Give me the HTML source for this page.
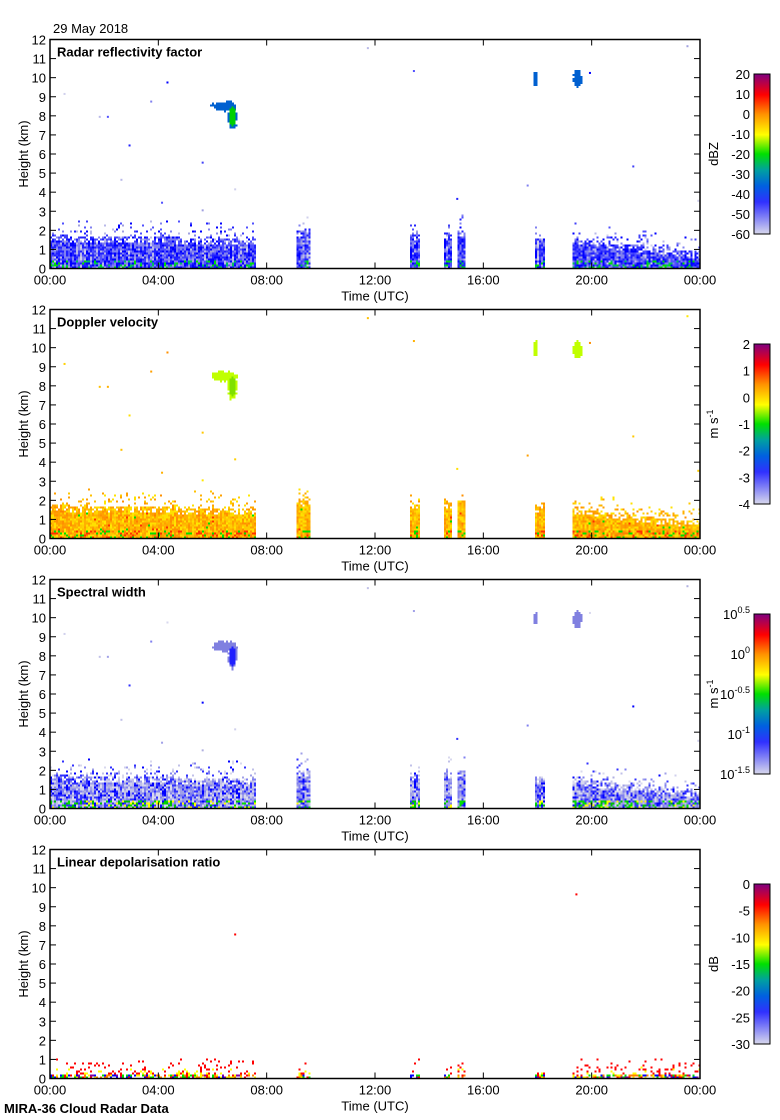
<!DOCTYPE html>
<html><head><meta charset="utf-8">
<style>
body{margin:0;background:#fff;}
svg{display:block;font-family:"Liberation Sans",sans-serif;}
</style></head>
<body>
<svg id="chart" width="780" height="1120" viewBox="0 0 780 1120">
<defs>
<linearGradient id="cmap" x1="0" y1="1" x2="0" y2="0">
<stop offset="0" stop-color="#d8d8ec"/><stop offset="0.2" stop-color="#3030ff"/>
<stop offset="0.3" stop-color="#0060e0"/><stop offset="0.4" stop-color="#00a0a0"/>
<stop offset="0.5" stop-color="#00e000"/><stop offset="0.62" stop-color="#ffff00"/>
<stop offset="0.75" stop-color="#ff9000"/><stop offset="0.87" stop-color="#ff0000"/>
<stop offset="1" stop-color="#800080"/></linearGradient>
</defs>
</svg>
<script>
// ---- data ----
const segStart=[0,9.1,13.3,14.55,15.05,17.9,19.3];
const segEnd=[7.55,9.6,13.62,14.82,15.28,18.25,24];
const segTopStart=[1.8,2.0,1.8,1.9,2.0,1.7,1.6];
const segTopEnd=[1.6,2.0,1.8,1.9,2.0,1.7,0.9];
const blobT0=[5.9,6.55,17.85,19.3];
const blobT1=[6.9,6.85,17.95,19.6];
const blobH0=[8.3,7.3,9.6,9.5];
const blobH1=[8.8,8.7,10.4,10.4];
const dotT=[0.5,1.8,2.1,2.9,3.7,4.3,5.6,5.6,6.8,11.7,13.4,15.0,17.6,19.9,21.5,23.5,23.9,2.6,4.1];
const dotH=[9.2,8.0,8.0,6.5,8.8,9.8,5.6,3.1,4.2,11.6,10.4,3.7,4.4,10.3,5.4,11.7,3.6,4.7,3.5];
const ldrDotT=[6.8,19.4];
const ldrDotH=[7.6,9.7];
const yTicks=[0,1,2,3,4,5,6,7,8,9,10,11,12];
const xTicks=["00:00","04:00","08:00","12:00","16:00","20:00","00:00"];
const titles=["Radar reflectivity factor","Doppler velocity","Spectral width","Linear depolarisation ratio"];
const cbTicks=[["20","10","0","-10","-20","-30","-40","-50","-60"],["2","1","0","-1","-2","-3","-4"],["0.5","0","-0.5","-1","-1.5"],["0","-5","-10","-15","-20","-25","-30"]];
const cbUnits=["dBZ","m s-1","m s-1","dB"];
// ---- layout ----
const L=50,R=700,PH=229,tops=[39.5,309.5,579.5,849.5];
const NS="http://www.w3.org/2000/svg",svg=document.getElementById('chart');
function el(t,a,p){const e=document.createElementNS(NS,t);for(const k in a)e.setAttribute(k,a[k]);(p||svg).appendChild(e);return e;}
const xS=h=>L+h/24*(R-L);
function yS(p,km){return tops[p]+PH-km/12*PH;}
function hash(a,b,c){let h=(a*374761393+b*668265263+c*2147483647)|0;h=(h^(h>>>13))*1274126177|0;return ((h^(h>>>16))>>>0)/4294967296;}
const pals=[
 ["#d0d0ec","#b8b8e8","#5050ff","#2020ff","#8080f0","#0000ff","#4040f8","#a0a0e0"],
 ["#ffd000","#ffc000","#ffb000","#ffe000","#ffa000","#ff9000","#ffc800","#ffe800"],
 ["#d0d0ec","#c0c0e8","#a0a0e8","#3030ff","#8080f0","#d8d8ee","#0000ff","#b0b0e0"],
 ["#ff0000","#ffff00","#00e000","#0000ff","#ff8000","#8000a0","#00c0c0","#ff00ff"]];
const lowPal=[["#00c060","#00e000","#0000ff"],["#ff3000","#00e000","#ff8000"],["#00e000","#00c000","#ffff00"],["#ff0000","#ffff00","#00e000"]];
const blobCol=[["#0060d0","#00d000"],["#c0ff00","#80e000"],["#8080e0","#2020ff"],["#ff0000","#ff0000"]];
for(let p=0;p<4;p++){
 const g=el('g',{});  
 const top=tops[p],bot=top+PH;
 const cg=el('g',{'shape-rendering':'crispEdges'},g);
  
 for(let s=0;s<segStart.length;s++){
  const x0=xS(segStart[s]),x1=xS(segEnd[s]);
  for(let x=x0;x<x1;x+=2){
   const f=(x-x0)/Math.max(1,x1-x0);
   let tk=segTopStart[s]+(segTopEnd[s]-segTopStart[s])*f;
   if(p===3) tk=0.28;
   const yt=yS(p,tk);
   const colSeed=hash(Math.round(x),7,p+3);
   for(let y=bot-2;y>yt-(p===3?16:18);y-=2){
    const r=hash(Math.round(x),Math.round(y),p+1);
    const above=yt-y;
    if(above>0 && r>0.22-above*0.012) continue;
    if(above>-6 && above<=0 && r>0.7) continue;
    let col;
    const rel=(bot-y)/PH*12;
    if(rel<0.45 && r<0.35) col=lowPal[p][Math.floor(r*8.5)%3];
    else if(p===1 && r>0.96) col=lowPal[1][Math.floor(r*300)%3];
    else col=pals[p][Math.floor((hash(Math.round(y),Math.round(x),p+7)*0.5+colSeed*0.5)*8)];
    if(p===3) col=pals[3][Math.floor(r*8)];
    el('rect',{x:x.toFixed(1),y:y.toFixed(1),width:2,height:2,fill:col},cg);
   }
  }
 }
 if(p<3){
  for(let b=0;b<blobT0.length;b++){
   const bx=xS(blobT0[b]),bw=xS(blobT1[b])-bx,by=yS(p,blobH1[b]),bh=yS(p,blobH0[b])-by;
   const bg=el('g',{'shape-rendering':'crispEdges'},g);
    
   const cx=bx+bw/2,cy=by+bh/2;
   for(let x=bx-2;x<bx+bw+2;x+=2)for(let y=by-2;y<by+bh+2;y+=2){
    const dx=(x-cx)/(bw/2+1),dy=(y-cy)/(bh/2+1);
    const r=hash(Math.round(x),Math.round(y),b+11);
    if(dx*dx+dy*dy>1-r*0.4) continue;
    el('rect',{x:x.toFixed(1),y:y.toFixed(1),width:2,height:2,fill:blobCol[p][(b===1&&dx*dx+dy*dy<0.5)?1:0]},bg);
   }
  }
  for(let d=0;d<dotT.length;d++){
   const e=el('rect',{x:xS(dotT[d]),y:yS(p,dotH[d]),width:2,height:2,fill:pals[p][d%8]},g);
    
  }
 } else {
  for(let d=0;d<ldrDotT.length;d++){
   const e=el('rect',{x:xS(ldrDotT[d]),y:yS(p,ldrDotH[d]),width:2,height:2,fill:'#ff0000'},g);
    
  }
 }
 const fr=el('rect',{x:L,y:top,width:R-L,height:PH,fill:'none',stroke:'#000','stroke-width':1.5},g);
  
 yTicks.forEach(v=>{const y=yS(p,v);
  el('line',{x1:L,x2:L+6,y1:y,y2:y,stroke:'#000'},g);el('line',{x1:R-6,x2:R,y1:y,y2:y,stroke:'#000'},g);
  const t=el('text',{x:L-4,y:y+5,'text-anchor':'end','font-size':13},g);t.textContent=v;
   });
 xTicks.forEach((v,i)=>{const x=xS(i*4);
  el('line',{x1:x,x2:x,y1:bot,y2:bot-6,stroke:'#000'},g);el('line',{x1:x,x2:x,y1:top,y2:top+6,stroke:'#000'},g);
  const t=el('text',{x:x,y:bot+16,'text-anchor':'middle','font-size':13},g);t.textContent=v;
   });
 const xt=el('text',{x:375,y:bot+32,'text-anchor':'middle','font-size':13},g);xt.textContent='Time (UTC)';
  
 const yt=el('text',{x:28,y:top+PH/2,'text-anchor':'middle','font-size':13,transform:`rotate(-90 28 ${top+PH/2})`},g);yt.textContent='Height (km)';
  
 const tt=el('text',{x:57,y:top+17,'font-size':13,'font-weight':'bold'},g);tt.textContent=titles[p];
  
 const cy=top+34.5,ch=160;
 const cb=el('rect',{x:754,y:cy,width:16,height:ch,fill:'url(#cmap)',stroke:'#000','stroke-width':1},g);
  
 const tk=cbTicks[p];
 tk.forEach((v,i)=>{const y=cy+i*ch/(tk.length-1);
  const t=el('text',{x:750,y:y+5,'text-anchor':'end','font-size':13},g);
  if(p===2){t.textContent='10';const s=el('tspan',{dy:-6,'font-size':9},t);s.textContent=v;}
  else t.textContent=v;
   });
 const ux=718,uy=cy+ch/2;
 const ut=el('text',{x:ux,y:uy,'text-anchor':'middle','font-size':13,transform:`rotate(-90 ${ux} ${uy})`},g);
 if(cbUnits[p]==='m s-1'){ut.textContent='m s';const s=el('tspan',{dy:-5,'font-size':9},ut);s.textContent='-1';}
 else ut.textContent=cbUnits[p];
  
}
const d=el('text',{x:53,y:33,'font-size':13});d.textContent='29 May 2018';
 
const f=el('text',{x:4,y:1113,'font-size':13,'font-weight':'bold'});f.textContent='MIRA-36 Cloud Radar Data';
 
</script>
</body></html>
